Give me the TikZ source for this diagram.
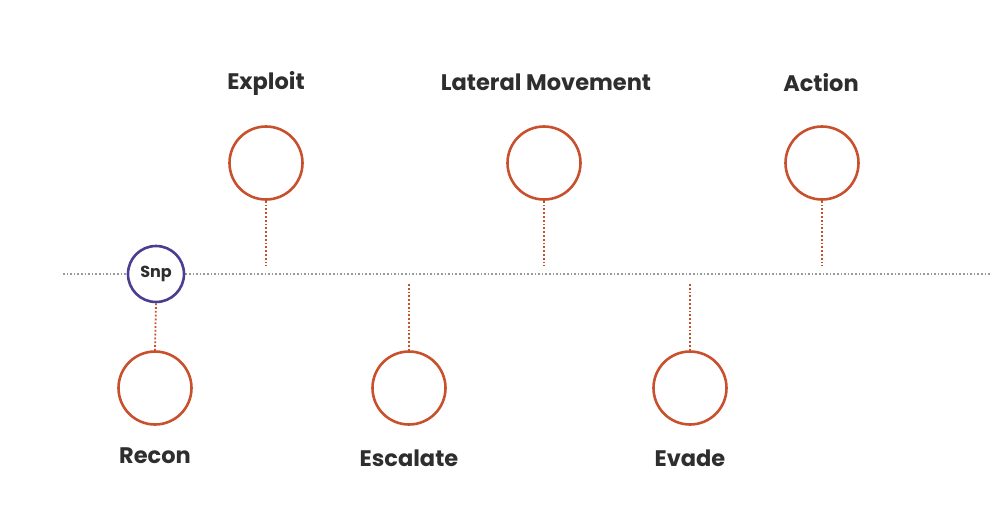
\documentclass[tikz,border=0pt]{standalone}
\usepackage{fontspec}
\setmainfont{Poppins}
\definecolor{rust}{HTML}{C8502C}
\definecolor{snp}{HTML}{4A3E92}
\definecolor{txt}{HTML}{2E2E2E}
\definecolor{tl}{HTML}{9A9A9A}
\begin{document}
\begin{tikzpicture}[x=1pt,y=-1pt,
  stage/.style={circle,draw=rust,line width=2.6pt,minimum size=73pt,inner sep=0pt},
  snpnode/.style={circle,draw=snp,line width=2.6pt,fill=white,minimum size=56pt,inner sep=0pt,font=\fontsize{16}{18}\selectfont\bfseries,text=txt},
  lbl/.style={font=\fontsize{22.5}{26}\selectfont\bfseries,text=txt},
  stem/.style={draw=rust,line width=1.8pt,dotted,line cap=butt},
  timeline/.style={draw=tl,line width=1.6pt,dotted}]
\useasboundingbox (0,0) rectangle (996,520);
\coordinate (tlL) at (63,274);
\coordinate (tlR) at (990,274);
\draw[timeline] (tlL) -- (tlR);
% top stages
\node[stage] (exploit) at (266,163) {};
\node[stage] (lateral) at (544,163) {};
\node[stage] (action) at (822,163) {};
\node[lbl] (lexploit) at (266,83) {Exploit};
\node[lbl] (llateral) at (546,82) {Lateral Movement};
\node[lbl] (laction) at (821,83) {Action};
\coordinate (eE) at (266,266);
\coordinate (eL) at (544,266);
\coordinate (eA) at (822,266);
\draw[stem] (exploit.south) -- (eE);
\draw[stem] (lateral.south) -- (eL);
\draw[stem] (action.south) -- (eA);
% bottom stages
\node[stage] (recon) at (155,388) {};
\node[stage] (escalate) at (409,388) {};
\node[stage] (evade) at (690,388) {};
\node[lbl] (lrecon) at (155,456) {Recon};
\node[lbl] (lescalate) at (409,458) {Escalate};
\node[lbl] (levade) at (690,458) {Evade};
\coordinate (sEs) at (409,284);
\coordinate (sEv) at (690,284);
\draw[stem] (sEs) -- (escalate.north);
\draw[stem] (sEv) -- (evade.north);
\node[snpnode] (snp) at (156,274) {Snp};
\draw[stem] (snp.south) -- (recon.north);
\end{tikzpicture}
\end{document}
